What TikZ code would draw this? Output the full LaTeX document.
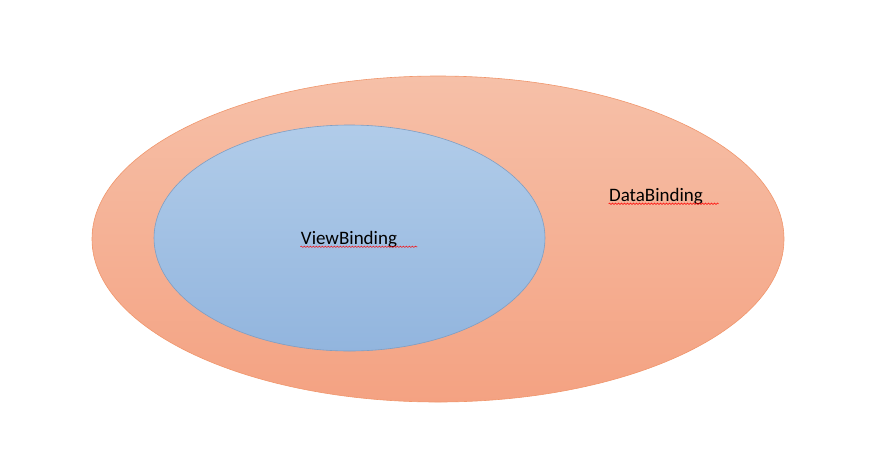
\documentclass[tikz,border=0pt]{standalone}
\usepackage{fontspec}
\setmainfont{Carlito}
\usetikzlibrary{decorations.pathmorphing,shapes.geometric}
\definecolor{outtop}{HTML}{F6C0A8}
\definecolor{outbot}{HTML}{F4A282}
\definecolor{outline}{HTML}{F0966C}
\definecolor{intop}{HTML}{B1CCE9}
\definecolor{inbot}{HTML}{92B5DE}
\definecolor{inline}{HTML}{7F9EC3}
\tikzset{
  lbl/.style={font=\fontsize{19}{22}\selectfont, text=black},
  squiggle/.style={red, line width=0.5pt, decorate, decoration={snake, amplitude=0.7pt, segment length=3pt}}
}
\begin{document}
\begin{tikzpicture}[x=1pt,y=-1pt]
\useasboundingbox (0,0) rectangle (880,456);
\node[draw=outline, line width=0.6pt, ellipse, top color=outtop, bottom color=outbot, minimum width=692, minimum height=326, inner sep=0] (outer) at (438,239) {};
\node[draw=inline, line width=0.6pt, ellipse, top color=intop, bottom color=inbot, minimum width=391, minimum height=226, inner sep=0] (inner) at (349.5,238) {};
\node[lbl] (vb) at (349,240) {ViewBinding};
\node[lbl] (db) at (656,197) {DataBinding};
\draw[squiggle] (vb.south west)++(3,-5) -- ++(117,0);
\draw[squiggle] (db.south west)++(3,-5) -- ++(110,0);
\end{tikzpicture}
\end{document}
